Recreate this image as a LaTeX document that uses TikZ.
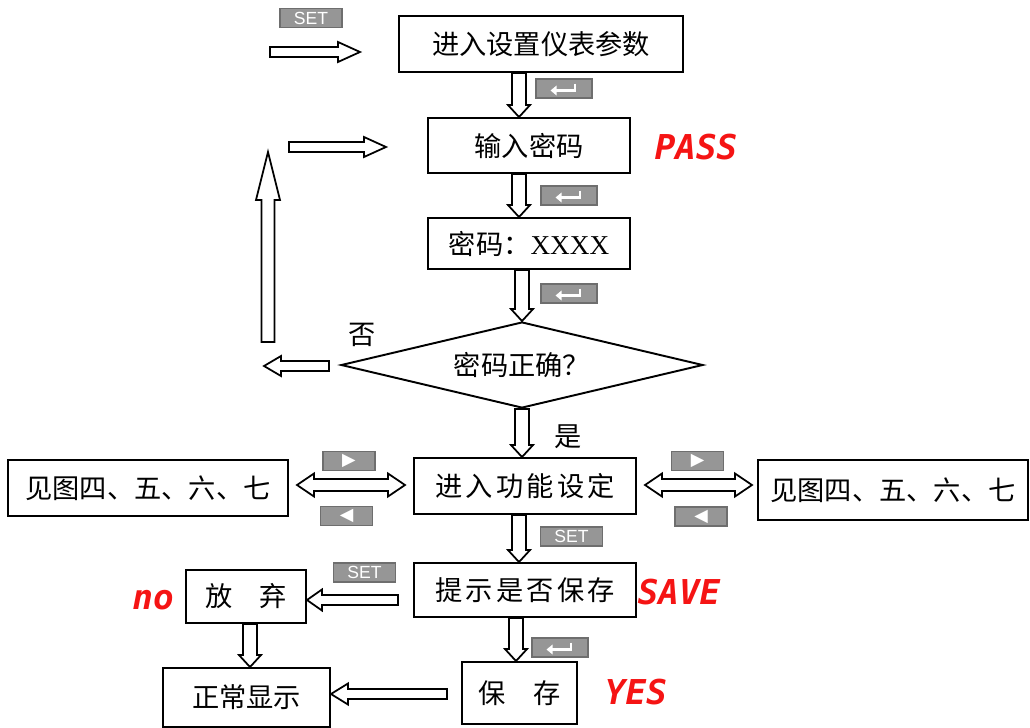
\documentclass[tikz,border=0pt]{standalone}
\usepackage{fontspec}
\setmainfont{Liberation Serif}
\setsansfont{Liberation Sans}
\newfontfamily\cjk{Noto Sans CJK SC}
\newfontfamily\symfont{DejaVu Sans}
\newfontfamily\segfont{DejaVu Sans Mono}
\usetikzlibrary{shapes.geometric,calc,arrows.meta}
\definecolor{keygray}{RGB}{150,150,150}
\definecolor{keyedge}{RGB}{110,110,110}
\definecolor{segred}{RGB}{245,20,20}

% hollow arrow: from, to, half shaft, half head, head length
\newcommand{\fatarrow}[5]{%
  \coordinate (fh) at ($(#2)!#5!(#1)$);
  \draw[fat] ($(#1)!#3!90:(#2)$) -- ($(fh)!#3!90:(#2)$) -- ($(fh)!#4!90:(#2)$) -- (#2)
    -- ($(fh)!#4!-90:(#2)$) -- ($(fh)!#3!-90:(#2)$) -- ($(#1)!#3!-90:(#2)$) -- cycle;}
% hollow arrow with two heads
\newcommand{\fatdouble}[5]{%
  \coordinate (fa) at ($(#1)!#5!(#2)$);
  \coordinate (fb) at ($(#2)!#5!(#1)$);
  \draw[fat] (#1) -- ($(fa)!#4!90:(#2)$) -- ($(fa)!#3!90:(#2)$) -- ($(fb)!#3!90:(#2)$)
    -- ($(fb)!#4!90:(#2)$) -- (#2) -- ($(fb)!#4!-90:(#2)$) -- ($(fb)!#3!-90:(#2)$)
    -- ($(fa)!#3!-90:(#2)$) -- ($(fa)!#4!-90:(#2)$) -- cycle;}

\tikzset{
  box/.style={draw, line width=1.1pt, inner sep=0pt, font=\cjk\fontsize{15.5}{18}\selectfont},
  fat/.style={draw, line width=1pt, fill=white, line join=miter},
  key/.style={draw=keyedge, fill=keygray, line width=0.6pt, minimum width=1.12cm,
    minimum height=0.38cm, inner sep=0pt, text=white},
  setkey/.style={key, minimum width=1.24cm, font=\sffamily\fontsize{10}{10}\selectfont},
  dirkey/.style={key, minimum width=1.04cm, font=\symfont\fontsize{10}{10}\selectfont},
  enterkey/.style={key, path picture={
    \draw[white, line width=1.6pt, -{Triangle[length=3.5pt,width=5.5pt]}]
      ([xshift=0.22cm,yshift=0.1cm]path picture bounding box.center)
      |- ([xshift=-0.27cm,yshift=-0.04cm]path picture bounding box.center);}},
  seg/.style={text=segred, font=\segfont\bfseries\itshape\fontsize{19.5}{20}\selectfont},
  lbl/.style={font=\cjk\fontsize{15.5}{18}\selectfont}
}

\begin{document}
\begin{tikzpicture}[x=0.02cm, y=-0.02cm]
  \useasboundingbox (0,0) rectangle (1030,727);

  % boxes
  \node[box, minimum width=5.68cm, minimum height=1.12cm] (setin) at (541,44) {进入设置仪表参数};
  \node[box, minimum width=4.04cm, minimum height=1.1cm] (pwin) at (529,145.5) {输入密码};
  \node[box, minimum width=4.04cm, minimum height=1.02cm] (pwval) at (529,243.5) {密码：{\rmfamily XXXX}};
  \node[box, diamond, aspect=4.2, minimum width=7.24cm, minimum height=1.72cm] (check) at (522,365) {密码正确？};
  \node[box, minimum width=4.44cm, minimum height=1.12cm] (func) at (525,486) {{\addfontfeature{LetterSpace=12}进入功能设定}};
  \node[box, minimum width=5.6cm, minimum height=1.12cm] (seeL) at (148,488) {见图四、五、六、七};
  \node[box, minimum width=5.4cm, minimum height=1.2cm] (seeR) at (893,490) {见图四、五、六、七};
  \node[box, minimum width=4.44cm, minimum height=1.08cm] (ask) at (525,590) {{\addfontfeature{LetterSpace=12}提示是否保存}};
  \node[box, minimum width=2.4cm, minimum height=1.06cm] (drop) at (246,596.5) {放\quad 弃};
  \node[box, minimum width=3.34cm, minimum height=1.18cm] (normal) at (246.5,697.5) {正常显示};
  \node[box, minimum width=2.3cm, minimum height=1.24cm] (save) at (519.5,693) {保\quad 存};

  % labels
  \node[lbl] (no) at (362,335) {否};
  \node[lbl] (yes) at (568,437) {是};
  \node[seg] (dPASS) at (696,147) {PASS};
  \node[seg] (dSAVE) at (679,592) {SAVE};
  \node[seg] (dno) at (153,600) {no};
  \node[seg] (dYES) at (636,692) {YES};

  % keys
  \node[setkey] (kset1) at (311,18) {SET};
  \node[enterkey] (kent1) at (564,88.5) {};
  \node[enterkey] (kent2) at (569,195.5) {};
  \node[enterkey] (kent3) at (569,293.5) {};
  \node[dirkey] (kright1) at (349,461) {▶};
  \node[dirkey] (kleft1) at (346.5,516) {◀};
  \node[dirkey] (kright2) at (697.5,461) {▶};
  \node[dirkey] (kleft2) at (701,516.5) {◀};
  \node[setkey] (kset2) at (571.5,536.5) {SET};
  \node[setkey] (kset3) at (364.5,572.5) {SET};
  \node[enterkey] (kent4) at (560,647.5) {};

  % free ends
  \coordinate (t1) at (270,52);
  \coordinate (t2) at (360,52);
  \coordinate (r1) at (289,147);
  \coordinate (r2) at (386,147);
  \coordinate (u1) at (268,342);
  \coordinate (u2) at (268,152);
  \coordinate (l1) at (329,366);
  \coordinate (l2) at (264,366);
  \coordinate (c1) at (398,600);
  \coordinate (s1) at (447,694);
  \coordinate (d1) at (297,485);
  \coordinate (d2) at (405,485);
  \coordinate (d3) at (645,485);
  \coordinate (d4) at (752,485);

  % hollow arrows
  \fatarrow{t1}{t2}{0.1cm}{0.2cm}{0.44cm}
  \fatarrow{r1}{r2}{0.1cm}{0.2cm}{0.44cm}
  \fatarrow{u1}{u2}{0.13cm}{0.24cm}{0.96cm}
  \fatarrow{l1}{l2}{0.1cm}{0.2cm}{0.34cm}
  \fatarrow{519,0 |- setin.south}{519,0 |- pwin.north}{0.14cm}{0.22cm}{0.24cm}
  \fatarrow{519,0 |- pwin.south}{519,0 |- pwval.north}{0.14cm}{0.22cm}{0.24cm}
  \fatarrow{522,0 |- pwval.south}{check.north}{0.14cm}{0.22cm}{0.24cm}
  \fatarrow{check.south}{522,0 |- func.north}{0.14cm}{0.22cm}{0.24cm}
  \fatarrow{519,0 |- func.south}{519,0 |- ask.north}{0.14cm}{0.22cm}{0.24cm}
  \fatarrow{516,0 |- ask.south}{516,0 |- save.north}{0.14cm}{0.22cm}{0.24cm}
  \fatarrow{250,0 |- drop.south}{250,0 |- normal.north}{0.14cm}{0.22cm}{0.24cm}
  \fatarrow{c1}{drop.east |- c1}{0.1cm}{0.21cm}{0.3cm}
  \fatarrow{s1}{normal.east |- s1}{0.1cm}{0.21cm}{0.34cm}
  \fatdouble{d1}{d2}{0.12cm}{0.23cm}{0.34cm}
  \fatdouble{d3}{d4}{0.12cm}{0.23cm}{0.34cm}
\end{tikzpicture}
\end{document}
